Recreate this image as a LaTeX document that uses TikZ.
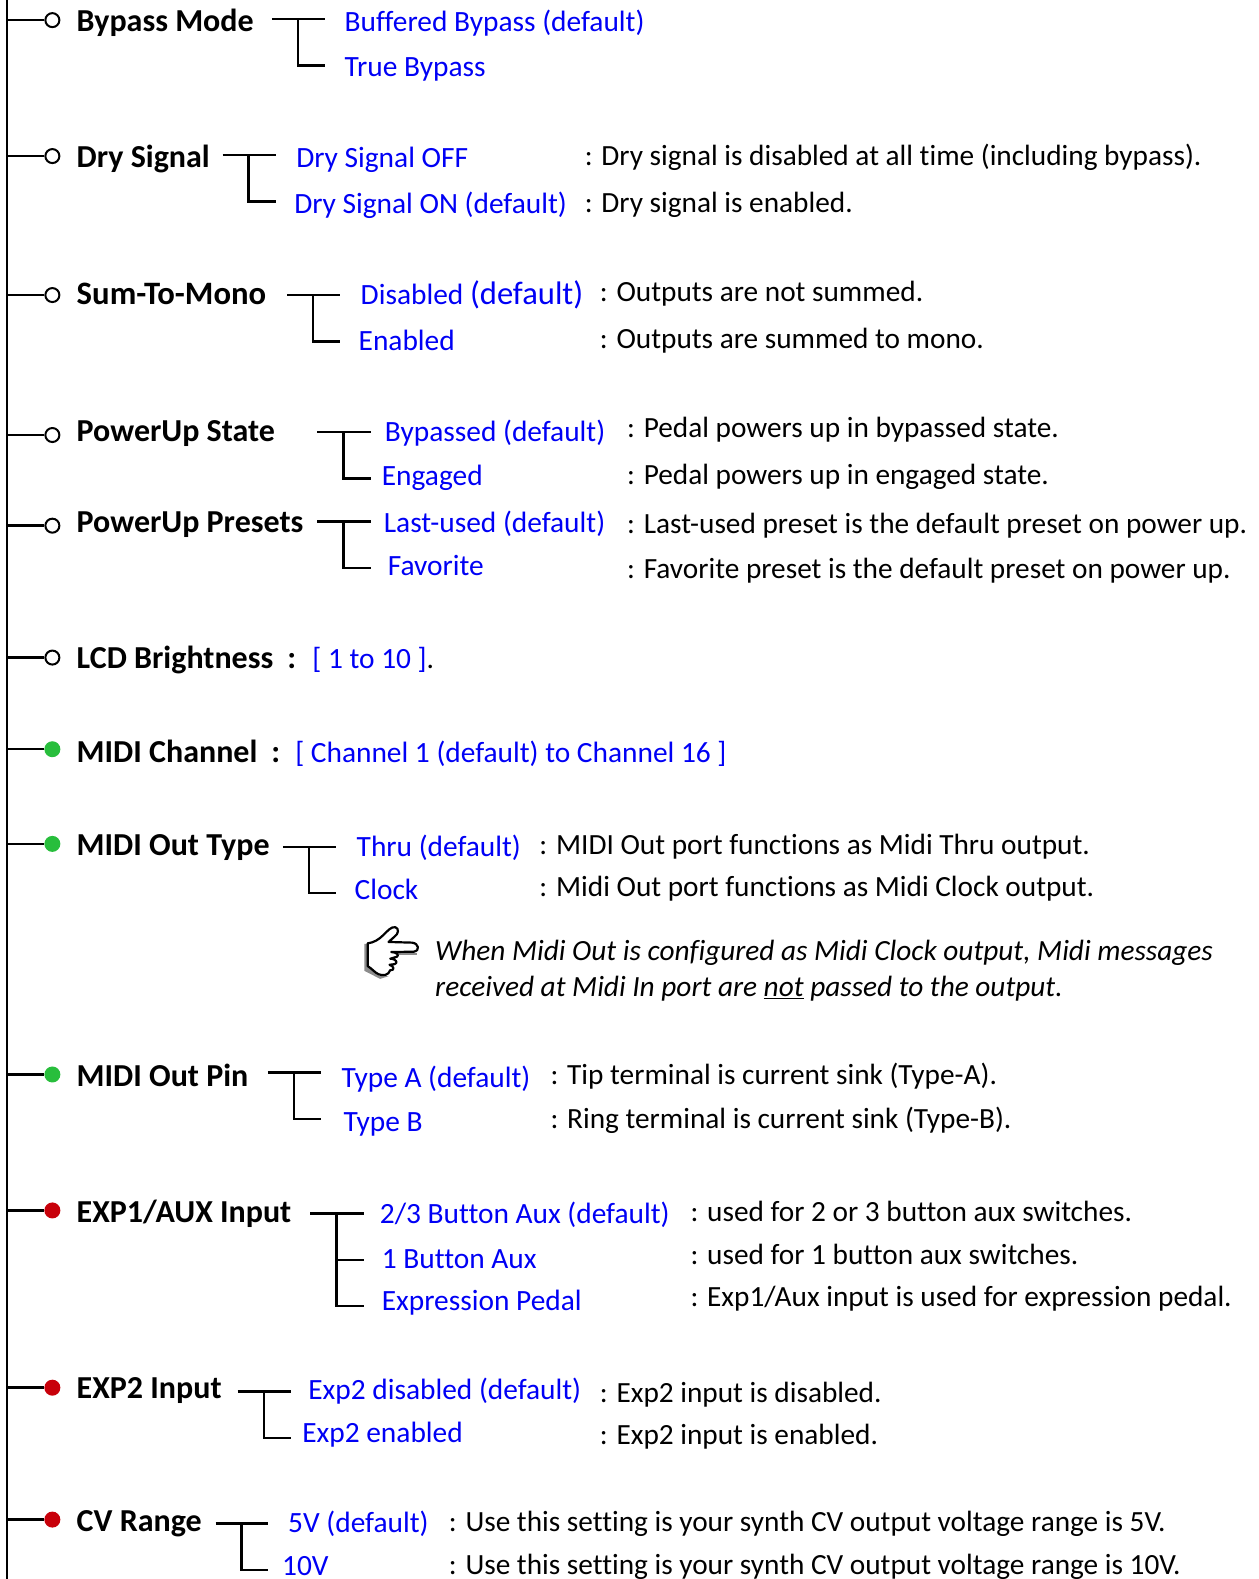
\documentclass[tikz,border=0pt]{standalone}
\usepackage{fontspec}
\setmainfont[Ligatures=NoCommon]{Carlito}
\definecolor{optblue}{RGB}{0,0,245}
\definecolor{dotgreen}{RGB}{40,190,60}
\definecolor{dotred}{RGB}{200,0,10}
\definecolor{handshade}{RGB}{140,140,140}
\tikzset{
 line/.style={draw=black,line width=2.5pt},
 head/.style={anchor=base west,inner sep=0pt,yshift=-0.7pt,font=\fontsize{32}{36}\selectfont\bfseries},
 opt/.style={anchor=base west,inner sep=0pt,yshift=-0.7pt,text=optblue,font=\fontsize{29.4}{34}\selectfont},
 desc/.style={anchor=base west,inner sep=0pt,yshift=-0.5pt,xshift=-1.5pt,text=black,font=\fontsize{29.3}{34}\selectfont},
 note/.style={anchor=base west,inner sep=0pt,yshift=-0.5pt,text=black,font=\fontsize{29.3}{34}\selectfont\itshape},
 opendot/.style={circle,draw=black,line width=2pt,fill=white,minimum size=14pt,inner sep=0pt},
 greendot/.style={circle,fill=dotgreen,minimum size=16pt,inner sep=0pt},
 reddot/.style={circle,fill=dotred,minimum size=16pt,inner sep=0pt},
 handline/.style={draw=black,line width=2.2pt,line join=round,line cap=round},
}
\newcommand{\tee}[6]{% name, x0, xv, x1, ytop, ybot
 \coordinate (a#1) at (#2,#5);
 \coordinate (b#1) at (#4,#5);
 \coordinate (c#1) at (#3,#5);
 \coordinate (e#1) at (#3,#6);
 \coordinate (f#1) at (#4,#6);
 \draw[line] (a#1) -- (b#1);
 \draw[line] (c#1) -- (e#1) -- (f#1);
}
\begin{document}
\begin{tikzpicture}[x=1.0072pt,y=-1.0072pt]
\useasboundingbox (0,0) rectangle (1250,1568);
\coordinate (trunktop) at (7,0);
\coordinate (trunkbot) at (7,1568);
\draw[line] (trunktop) -- (trunkbot);
% branches
\foreach \n/\y/\s in {1/20/opendot,2/155/opendot,3/293/opendot,4/432/opendot,5/522/opendot,6/653/opendot,7/744/greendot,8/838/greendot,9/1067/greendot,10/1202/reddot,11/1378/reddot,12/1509/reddot}{
 \coordinate (t\n) at (7,\y);
 \node[\s] (d\n) at (52,\y) {};
 \draw[line] (t\n) -- (d\n);
}
% headings
\node[head] (h1) at (76,31) {Bypass Mode};
\node[head] (h2) at (76,166) {Dry Signal};
\node[head] (h3) at (76,302) {\fontsize{32.7}{36}\selectfont Sum-To-Mono};
\node[head] (h4) at (76,438) {PowerUp State};
\node[head] (h5) at (76,528) {PowerUp Presets};
\node[head] (h6) at (76,663) {LCD Brightness\hspace{14pt}:};
\node[head] (h7) at (76,756) {MIDI Channel\hspace{14pt}:};
\node[head] (h8) at (76,849) {MIDI Out Type};
\node[head] (h9) at (76,1078) {MIDI Out Pin};
\node[head] (h10) at (76,1213) {EXP1/AUX Input};
\node[head] (h11) at (76,1388) {EXP2 Input};
\node[head] (h12) at (76,1520) {CV Range};
% tees
\tee{1}{270}{296}{323}{19}{65}
\tee{2}{221}{247}{274}{154}{200}
\tee{3}{285}{311}{338}{293}{339}
\tee{4}{315}{341}{368}{429}{475}
\tee{5}{315}{341}{368}{518}{564}
\tee{8}{281}{307}{334}{841}{887}
\tee{9}{266}{292}{319}{1065}{1111}
\tee{10}{308}{334}{361}{1205}{1297}
\coordinate (m10a) at (334,1251);
\coordinate (m10b) at (361,1251);
\draw[line] (m10a) -- (m10b);
\tee{11}{236}{262}{289}{1382}{1428}
\tee{12}{214}{240}{266}{1513}{1559}
% options
\node[opt] (o1a) at (342,31) {Buffered Bypass (default)};
\node[opt] (o1b) at (342,75) {True Bypass};
\node[opt] (o2a) at (294,166) {Dry Signal OFF};
\node[opt] (o2b) at (292,211) {Dry Signal ON (default)};
\node[opt] (o3a) at (358,302) {Disabled {\fontsize{32.6}{34}\selectfont (default)}};
\node[opt] (o3b) at (356,347) {Enabled};
\node[opt] (o4a) at (382,438) {Bypassed (default)};
\node[opt] (o4b) at (379,481) {Engaged};
\node[opt] (o5a) at (381,528) {Last-used (default)};
\node[opt] (o5b) at (385,571) {Favorite};
\node[opt] (o6) at (310,663) {[ 1 to 10 ]\textcolor{black}{.}};
\node[opt] (o7) at (293,756) {[ Channel 1 (default) to Channel 16 ]};
\node[opt] (o8a) at (354,850) {Thru (default)};
\node[opt] (o8b) at (352,893) {Clock};
\node[opt] (o9a) at (339,1079) {Type A (default)};
\node[opt] (o9b) at (341,1123) {Type B};
\node[opt] (o10a) at (377,1214) {2/3 Button Aux (default)};
\node[opt] (o10b) at (379,1259) {1 Button Aux};
\node[opt] (o10c) at (379,1301) {Expression Pedal};
\node[opt] (o11a) at (306,1389) {Exp2 disabled (default)};
\node[opt] (o11b) at (300,1432) {Exp2 enabled};
\node[opt] (o12a) at (286,1521) {5V (default)};
\node[opt] (o12b) at (280,1563.5) {10V};
% descriptions
\node[desc] (s2a) at (582,164) {: Dry signal is disabled at all time (including bypass).};
\node[desc] (s2b) at (582,211) {: Dry signal is enabled.};
\node[desc] (s3a) at (597,299) {: Outputs are not summed.};
\node[desc] (s3b) at (597,346) {: Outputs are summed to mono.};
\node[desc] (s4a) at (624,434) {: Pedal powers up in bypassed state.};
\node[desc] (s4b) at (624,481) {: Pedal powers up in engaged state.};
\node[desc] (s5a) at (624,529) {: Last-used preset is the default preset on power up.};
\node[desc] (s5b) at (624,574) {: Favorite preset is the default preset on power up.};
\node[desc] (s8a) at (537,848) {: MIDI Out port functions as Midi Thru output.};
\node[desc] (s8b) at (537,890) {: Midi Out port functions as Midi Clock output.};
\node[desc] (s9a) at (548,1076) {: Tip terminal is current sink (Type-A).};
\node[desc] (s9b) at (548,1120) {: Ring terminal is current sink (Type-B).};
\node[desc] (s10a) at (687,1212) {: used for 2 or 3 button aux switches.};
\node[desc] (s10b) at (687,1255) {: used for 1 button aux switches.};
\node[desc] (s10c) at (687,1297) {: Exp1/Aux input is used for expression pedal.};
\node[desc] (s11a) at (597,1392) {: Exp2 input is disabled.};
\node[desc] (s11b) at (597,1434) {: Exp2 input is enabled.};
\node[desc] (s12a) at (447,1520) {: Use this setting is your synth CV output voltage range is 5V.};
\node[desc] (s12b) at (447,1563) {: Use this setting is your synth CV output voltage range is 10V.};
% note
\node[note] (n1) at (432,953) {When Midi Out is configured as Midi Clock output, Midi messages};
\node[note] (n2) at (432,989) {received at Midi In port are \underline{not} passed to the output.};
% hand
\begin{scope}[shift={(352.5,913.4)},x=0.3357pt,y=-0.3357pt]
 \fill[handshade] (28,72) -- (40,72) -- (40,140) -- (75,168) -- (100,168) -- (75,176) -- (28,152) -- cycle;
 \fill[handshade] (110,100) -- (185,100) -- (185,106) -- (110,106) -- cycle;
 \path[handline,fill=white] (38,70) .. controls (55,68) and (70,60) .. (85,45)
   .. controls (98,32) and (108,20) .. (120,22)
   .. controls (132,25) and (130,42) .. (118,50)
   -- (100,66) -- (170,68)
   .. controls (190,70) and (195,92) .. (175,95)
   -- (108,96)
   .. controls (125,96) and (132,106) .. (125,110) -- (105,116)
   .. controls (125,116) and (128,130) .. (118,132) -- (103,134)
   .. controls (118,138) and (118,152) .. (105,150)
   .. controls (100,165) and (85,168) .. (70,162)
   .. controls (60,158) and (50,145) .. (38,138) -- cycle;
\end{scope}
\end{tikzpicture}
\end{document}
